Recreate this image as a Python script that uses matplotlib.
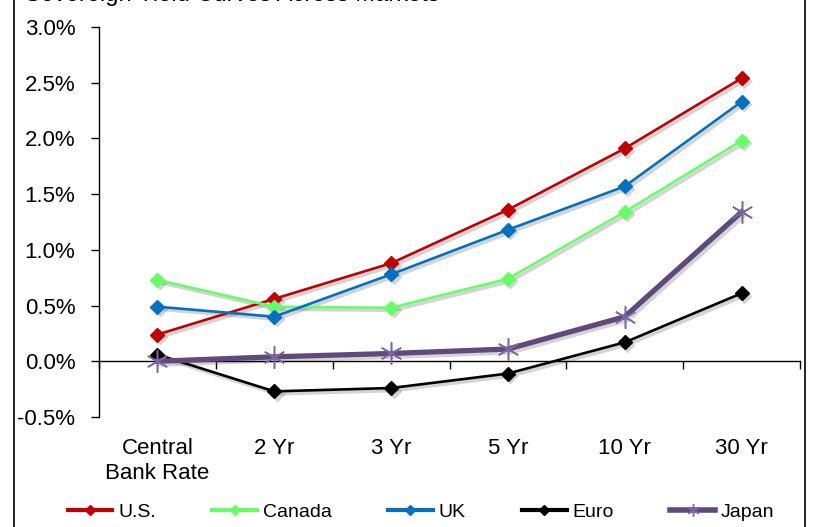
import matplotlib
matplotlib.use("Agg")
import matplotlib.pyplot as plt
from matplotlib.lines import Line2D
from matplotlib.font_manager import FontProperties
from matplotlib.ticker import FixedLocator, FuncFormatter
import matplotlib.transforms as mtransforms

plt.rcParams['font.family'] = ['Liberation Sans', 'DejaVu Sans']

categories = ["Central\nBank Rate", "2 Yr", "3 Yr", "5 Yr", "10 Yr", "30 Yr"]
us = [0.24, 0.56, 0.88, 1.36, 1.91, 2.54]
canada = [0.73, 0.49, 0.48, 0.74, 1.34, 1.98]
uk = [0.49, 0.40, 0.78, 1.18, 1.57, 2.33]
euro = [0.06, -0.27, -0.24, -0.11, 0.17, 0.61]
japan = [0.00, 0.04, 0.07, 0.11, 0.40, 1.34]
y_ticks = [-0.5, 0.0, 0.5, 1.0, 1.5, 2.0, 2.5, 3.0]

W, H = 817, 527
fig = plt.figure(figsize=(W / 100, H / 100), dpi=100)
ax = fig.add_axes([99 / W, 1 - 417 / H, 701 / W, 390 / H])

x = list(range(len(categories)))
shadow_tr = mtransforms.offset_copy(ax.transData, fig=fig, x=2.5, y=-2.5, units='dots')

series = [
    (us, "#C00000"),
    (canada, "#66FF66"),
    (uk, "#0070C0"),
    (euro, "#000000"),
]
for vals, col in series:
    ax.plot(x, vals, color="0.45", alpha=0.3, lw=2.6, marker="D", ms=8,
            mec="none", transform=shadow_tr, zorder=2)
    ax.plot(x, vals, color=col, lw=1.9, marker="D", ms=7, mfc=col, mec=col, zorder=3)

ax.plot(x, japan, color="0.45", alpha=0.3, lw=4.4, transform=shadow_tr, zorder=2)
ax.plot(x, japan, color="#604A7B", lw=3.8, marker=(6, 2, 0), ms=16,
        mec="#7A66A0", mew=1.1, zorder=3)

ax.set_xlim(-0.5, len(categories) - 0.5)
ax.set_ylim(-0.5, 3.0)

for s in ("top", "right"):
    ax.spines[s].set_visible(False)
ax.spines["left"].set_linewidth(1.0)
ax.spines["bottom"].set_position(("data", 0))
ax.spines["bottom"].set_linewidth(1.0)

ax.yaxis.set_major_locator(FixedLocator(y_ticks))
ax.yaxis.set_major_formatter(FuncFormatter(lambda v, p: f"{v:.1f}%"))
ax.tick_params(axis="y", direction="out", length=6, width=1.0, pad=11, labelsize=16)

ax.set_xticks([i - 0.5 for i in range(len(categories) + 1)])
ax.set_xticklabels([])
ax.tick_params(axis="x", direction="out", length=6, width=1.0)

trans = mtransforms.blended_transform_factory(ax.transData, ax.transAxes)
for i, lab in enumerate(categories):
    ax.text(i, -0.055, lab, transform=trans, ha="center", va="top",
            fontsize=16, linespacing=1.25)

# heading running off the top edge
fig.text(25 / W, 1 - 0.5 / H, "Sovereign Yield Curves Across Markets",
         fontsize=17, ha="left", va="baseline")

# outer frame
for xf in (14 / W, 805 / W):
    fig.add_artist(Line2D([xf, xf], [0, 1], transform=fig.transFigure,
                          color="black", lw=1.2))

# legend
handles = [
    Line2D([], [], color="#C00000", lw=3, marker="D", ms=5),
    Line2D([], [], color="#66FF66", lw=3, marker="D", ms=5),
    Line2D([], [], color="#0070C0", lw=3, marker="D", ms=5),
    Line2D([], [], color="#000000", lw=3, marker="D", ms=5),
    Line2D([], [], color="#604A7B", lw=4, marker=(6, 2, 0), ms=9, mec="#7A66A0", mew=1.0),
]
labels = ["U.S.", "Canada", "UK", "Euro", "Japan"]
fp = FontProperties(family=["Liberation Sans Narrow", "Liberation Sans"], size=14)
fig.legend(handles, labels, loc="center", bbox_to_anchor=(421 / W, 1 - 512 / H),
           ncol=5, frameon=False, prop=fp, handlelength=2.3, handletextpad=0.3,
           columnspacing=2.9, borderpad=0.0)

fig.savefig("out.png", dpi=100)
